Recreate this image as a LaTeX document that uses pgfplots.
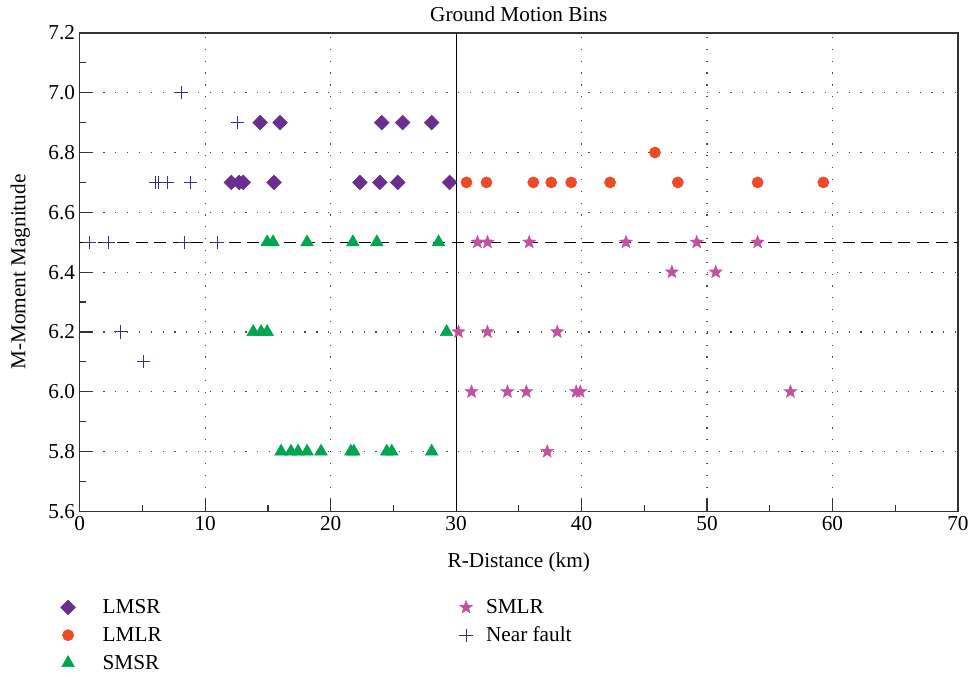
\documentclass[border=0pt]{standalone}
\usepackage{fontspec}
\setmainfont{Liberation Serif}
\usepackage{pgfplots}
\pgfplotsset{compat=1.18}
\definecolor{cLMSR}{HTML}{6B2D90}
\definecolor{cLMLR}{HTML}{EF4A26}
\definecolor{cSMSR}{HTML}{00A550}
\definecolor{cSMLR}{HTML}{C4519F}
\definecolor{cNF}{HTML}{3A2E8F}
\definecolor{axgray}{HTML}{333333}
\pgfdeclareplotmark{fstar}{%
  \pgfpathmoveto{\pgfpointpolar{90}{\pgfplotmarksize}}%
  \pgfpathlineto{\pgfpointpolar{126}{0.42\pgfplotmarksize}}%
  \pgfpathlineto{\pgfpointpolar{162}{\pgfplotmarksize}}%
  \pgfpathlineto{\pgfpointpolar{198}{0.42\pgfplotmarksize}}%
  \pgfpathlineto{\pgfpointpolar{234}{\pgfplotmarksize}}%
  \pgfpathlineto{\pgfpointpolar{270}{0.42\pgfplotmarksize}}%
  \pgfpathlineto{\pgfpointpolar{306}{\pgfplotmarksize}}%
  \pgfpathlineto{\pgfpointpolar{342}{0.42\pgfplotmarksize}}%
  \pgfpathlineto{\pgfpointpolar{18}{\pgfplotmarksize}}%
  \pgfpathlineto{\pgfpointpolar{54}{0.42\pgfplotmarksize}}%
  \pgfpathclose
  \pgfusepathqfillstroke}
\begin{document}
\begin{tikzpicture}
\begin{axis}[
  scale only axis,
  width=660.75pt, height=360pt,
  xmin=0, xmax=70, ymin=5.6, ymax=7.2,
  xtick={0,10,...,70},
  ytick={5.6,5.8,...,7.21},
  minor xtick={5,15,...,65},
  minor ytick={5.7,5.9,...,7.11},
  tick align=inside,
  xtick pos=left, ytick pos=left,
  major tick length=9pt, minor tick length=5pt,
  every tick/.style={axgray, line width=0.9pt},
  axis line style={axgray, line width=1.1pt},
  ymajorgrids, xmajorgrids,
  grid style={black!70, line width=0.9pt, dash pattern=on 0.9pt off 8pt},
  font=\fontsize{16}{18}\selectfont,
  tick label style={font=\fontsize{16}{18}\selectfont},
  /pgf/number format/assume math mode=true,
  yticklabel style={/pgf/number format/.cd, fixed, fixed zerofill, precision=1},
  title={Ground Motion Bins},
  title style={yshift=-1pt},
  xlabel={R-Distance (km)},
  ylabel={M-Moment Magnitude},
  xlabel style={yshift=-10pt},
  ylabel style={yshift=7pt},
  legend columns=3,
  transpose legend,
  legend cell align=left,
  legend style={at={(0,0)}, anchor=north west, xshift=-17.5pt, yshift=-62pt, draw=none, fill=none,
    font=\fontsize{16}{18}\selectfont, row sep=4.5pt,
    /tikz/every odd column/.append style={column sep=8pt},
    /tikz/every even column/.append style={column sep=222pt}},
  clip=false,
]
\addplot[black, line width=0.9pt, dash pattern=on 9pt off 5pt, forget plot] coordinates {(0,6.5) (70,6.5)};
\addplot[black, line width=0.9pt, forget plot] coordinates {(30,5.6) (30,7.2)};

\addplot[only marks, mark=square*, mark size=3.9pt, mark options={rotate=45, fill=cLMSR, draw=cLMSR}] coordinates {
(14.38,6.9) (15.97,6.9) (24.07,6.9) (25.74,6.9) (28.05,6.9)
(12.08,6.7) (12.71,6.7) (13.03,6.7) (15.49,6.7) (22.33,6.7) (23.92,6.7) (25.35,6.7) (29.48,6.7)
};
\addlegendentry{\hspace*{10.5pt}LMSR}

\addplot[only marks, mark=*, mark size=4.2pt, mark options={fill=cLMLR, draw=cLMLR}] coordinates {
(45.85,6.8)
(30.83,6.7) (32.42,6.7) (36.15,6.7) (37.58,6.7) (39.17,6.7) (42.27,6.7) (47.67,6.7) (54.03,6.7) (59.27,6.7)
};
\addlegendentry{\hspace*{10.5pt}LMLR}

\addplot[only marks, mark=triangle*, mark size=5.5pt, mark options={fill=cSMSR, draw=cSMSR}] coordinates {
(14.94,6.5) (15.41,6.5) (18.12,6.5) (21.77,6.5) (23.68,6.5) (28.6,6.5)
(13.83,6.2) (14.46,6.2) (14.94,6.2) (29.24,6.2)
(16.05,5.8) (16.84,5.8) (17.40,5.8) (18.12,5.8) (19.23,5.8) (21.61,5.8) (21.85,5.8) (24.47,5.8) (24.87,5.8) (28.05,5.8)
};
\addlegendentry{\hspace*{10.5pt}SMSR}

\addplot[only marks, mark=fstar, mark size=5.2pt, mark options={fill=cSMLR, draw=cSMLR, line width=0.3pt}] coordinates {
(31.70,6.5) (32.50,6.5) (35.83,6.5) (43.54,6.5) (49.18,6.5) (54.03,6.5)
(47.2,6.4) (50.69,6.4)
(30.19,6.2) (32.5,6.2) (38.06,6.2)
(31.23,6.0) (34.09,6.0) (35.6,6.0) (39.57,6.0) (39.89,6.0) (56.65,6.0)
(37.26,5.8)
};
\addlegendentry{SMLR}

\addplot[only marks, mark=+, mark size=5pt, mark options={draw=cNF, line width=0.8pt}] coordinates {
(8.10,7.0) (12.55,6.9)
(6.04,6.7) (6.3,6.7) (6.99,6.7) (8.82,6.7)
(0.79,6.5) (2.30,6.5) (8.34,6.5) (10.96,6.5)
(3.26,6.2) (5.08,6.1)
};
\addlegendentry{Near fault}
\end{axis}
\path (current axis.south west) ++(-60pt,-123.75pt) coordinate (bbA);
\path (current axis.north east) ++(9pt,24.75pt) coordinate (bbB);
\useasboundingbox (bbA) rectangle (bbB);
\end{tikzpicture}
\end{document}
